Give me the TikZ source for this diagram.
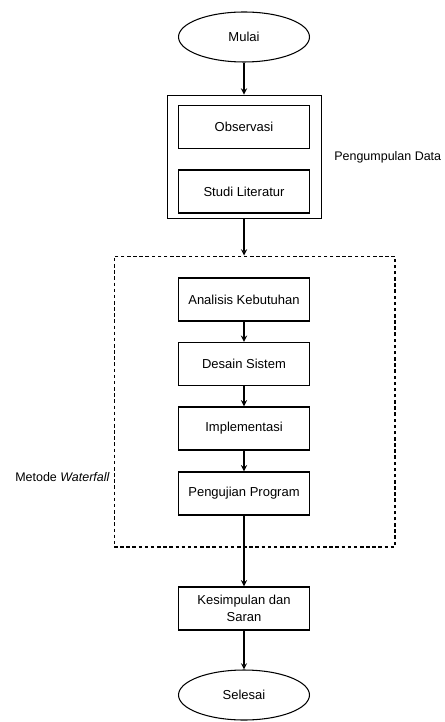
\documentclass[tikz,border=0pt]{standalone}
\usepackage{fontspec}
\setmainfont{Liberation Sans}
\usetikzlibrary{shapes.geometric}

\begin{document}
\begin{tikzpicture}[x=0.02cm,y=-0.02cm,
  every node/.style={font=\fontsize{7.4}{9.5}\selectfont},
  proses/.style={draw,line width=0.8pt,minimum width=2.62cm,minimum height=0.86cm,align=center,inner sep=1pt},
  terminal/.style={draw,ellipse,line width=0.6pt,minimum width=2.62cm,minimum height=1cm},
  label/.style={font=\fontsize{7.1}{9}\selectfont,inner sep=0pt},
  panah/.style={-stealth,line width=0.6pt}]
\useasboundingbox (0,0) rectangle (444,722);
% mulai dan pengumpulan data
\node[terminal] (mulai) at (244,37) {Mulai};
\node[draw,line width=0.5pt,minimum width=3.08cm,minimum height=2.46cm] (kumpul) at (244,156.5) {};
\node[proses] (obs) at (244,127) {Observasi};
\node[proses] (studi) at (244,191.5) {Studi Literatur};
\node[label,anchor=west] (lblkumpul) at (334,157) {Pengumpulan Data};
% metode waterfall
\node[draw,dash pattern=on 2pt off 1.5pt,line width=0.6pt,minimum width=5.62cm,minimum height=5.82cm] (wf) at (254.5,401.5) {};
\node[proses] (analisis) at (244,299.5) {Analisis Kebutuhan};
\node[proses] (desain) at (244,364) {Desain Sistem};
\node[proses] (impl) at (244,428.5) {Implementasi};
\node[proses] (uji) at (244,493.5) {Pengujian Program};
\node[label,anchor=east] (lblwf) at (110,477) {Metode \textit{Waterfall}};
% akhir
\node[proses] (simpulan) at (244,608.5) {Kesimpulan dan\\Saran};
\node[terminal] (selesai) at (244,695) {Selesai};
\draw[panah] (mulai) -- (kumpul);
\draw[panah] (kumpul.south) -- (kumpul.south |- wf.north);
\draw[panah] (analisis) -- (desain);
\draw[panah] (desain) -- (impl);
\draw[panah] (impl) -- (uji);
\draw[panah] (uji) -- (simpulan);
\draw[panah] (simpulan) -- (selesai);
\end{tikzpicture}
\end{document}
